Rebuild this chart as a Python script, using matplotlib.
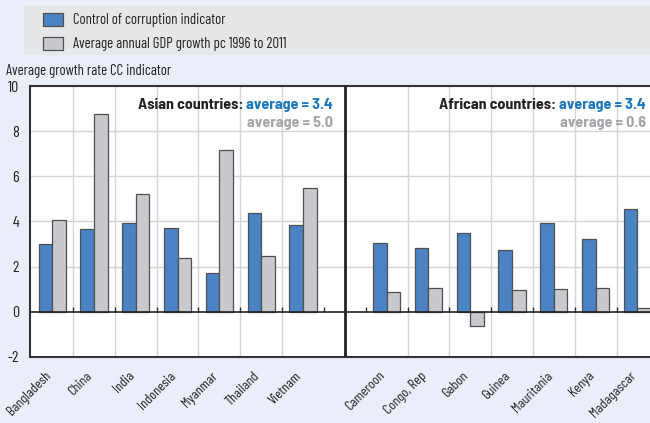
import matplotlib
matplotlib.use("Agg")
import matplotlib.pyplot as plt
from matplotlib.patches import Rectangle
import matplotlib.transforms as mtrans
import numpy as np

plt.rcParams['font.family'] = ['Barlow Condensed', 'Liberation Sans', 'DejaVu Sans']
BOLDFAM = ['Barlow Semi Condensed', 'Liberation Sans', 'DejaVu Sans']

asian = ["Bangladesh", "China", "India", "Indonesia", "Myanmar", "Thailand", "Vietnam"]
african = ["Cameroon", "Congo, Rep", "Gabon", "Guinea", "Mauritania", "Kenya", "Madagascar"]
asian_cc = [3.0, 3.66, 3.92, 3.69, 1.71, 4.36, 3.84]
asian_gdp = [4.06, 8.77, 5.2, 2.39, 7.16, 2.48, 5.49]
african_cc = [3.06, 2.81, 3.5, 2.72, 3.92, 3.23, 4.54]
african_gdp = [0.86, 1.04, -0.62, 0.95, 1.02, 1.04, 0.18]
yticks = [-2, 0, 2, 4, 6, 8, 10]
legend_labels = ["Control of corruption indicator", "Average annual GDP growth pc 1996 to 2011"]
ylabel = "Average growth rate CC indicator"
asian_note = ("Asian countries: ", "average = 3.4", "average = 5.0")
african_note = ("African countries: ", "average = 3.4", "average = 0.6")

BLUE = "#4a82c3"
GRAY = "#c8c9cc"
EDGE = "#505050"
BG = "#e9eef8"
TBLUE = "#1e78c0"
TGRAY = "#a4a6a9"
FS = 10.6

W, H = 650, 423
fig = plt.figure(figsize=(6.5, 4.23), dpi=100, facecolor=BG)
ax = fig.add_axes([30 / W, 1 - 356.8 / H, 1 - 30 / W, (356.8 - 86) / H])
ax.set_facecolor("white")

xa = np.arange(len(asian))
xf = np.arange(len(african)) + len(asian) + 1
x_all = np.concatenate([xa, xf])
cc = asian_cc + african_cc
gdp = asian_gdp + african_gdp
labels = asian + african
bw = 0.325

ax.bar(x_all - bw / 2, cc, width=bw, color=BLUE, edgecolor=EDGE, linewidth=0.9, zorder=3)
ax.bar(x_all + bw / 2, gdp, width=bw, color=GRAY, edgecolor=EDGE, linewidth=0.9, zorder=3)

ax.set_xlim(-0.53, 14.3)
ax.set_ylim(-2, 10)
ax.set_yticks(yticks)
ax.set_yticklabels([str(t) for t in yticks], fontsize=11.5)
ax.tick_params(axis='y', length=0, pad=8, colors="#222222")

# grid
for yv in yticks[2:-1]:
    ax.axhline(yv, color="#d4d4d4", lw=1, zorder=1)
for gx in np.arange(-0.5, 14.0, 1.0)[1:]:
    if abs(gx - 7) > 0.6:
        ax.axvline(gx, color="#d4d4d4", lw=1, zorder=1)
        ax.vlines(gx, 0, 0.22, color="#333333", lw=1, zorder=4)
ax.vlines([6.5, 7.5], 0, 0.22, color="#333333", lw=1, zorder=4)
ax.axhline(0, color="#222222", lw=1.2, zorder=4)
ax.axvline(len(asian), color="#222222", lw=2, zorder=5)

ax.set_xticks(x_all)
ax.set_xticklabels(labels, rotation=45, ha='right', va='top', rotation_mode='anchor', fontsize=10.3, color="#222222")
ax.tick_params(axis='x', length=0, pad=9)
off = mtrans.ScaledTranslation(-8 / 100, 0, fig.dpi_scale_trans)
for lab in ax.get_xticklabels():
    lab.set_transform(lab.get_transform() + off)

for s in ["left", "top", "bottom"]:
    ax.spines[s].set_color("#333333")
    ax.spines[s].set_linewidth(1.5)
ax.spines["right"].set_visible(False)

# annotations
def note(xr, parts):
    t2 = ax.text(xr, 9.15, parts[1], ha='right', va='center', fontsize=11.5, fontweight='bold',
                 family=BOLDFAM, color=TBLUE, zorder=6)
    fig.canvas.draw()
    bb = t2.get_window_extent()
    inv = ax.transData.inverted()
    xl = inv.transform((bb.x0, bb.y0))[0]
    ax.text(xl, 9.15, parts[0], ha='right', va='center', fontsize=11.5, fontweight='bold',
            family=BOLDFAM, color="#222222", zorder=6)
    ax.text(xr, 8.35, parts[2], ha='right', va='center', fontsize=11.5, fontweight='bold',
            family=BOLDFAM, color=TGRAY, zorder=6)

note(6.72, asian_note)
note(14.2, african_note)

# legend
fig.patches.append(Rectangle((24 / W, 1 - 55 / H), 1 - 24 / W, 50 / H, transform=fig.transFigure,
                             facecolor="#e6e7e9", edgecolor="none", zorder=0))
fig.patches.append(Rectangle((43 / W, 1 - 26 / H), 20 / W, 12.5 / H, transform=fig.transFigure,
                             facecolor=BLUE, edgecolor=EDGE, lw=0.9))
fig.patches.append(Rectangle((43 / W, 1 - 50 / H), 20 / W, 12.5 / H, transform=fig.transFigure,
                             facecolor=GRAY, edgecolor=EDGE, lw=0.9))
fig.text(73 / W, 1 - 20 / H, legend_labels[0], fontsize=FS, va='center', ha='left', color="#222222")
fig.text(73 / W, 1 - 44 / H, legend_labels[1], fontsize=FS, va='center', ha='left', color="#222222")

fig.text(6 / W, 1 - 71 / H, ylabel, fontsize=FS, va='center', ha='left', color="#222222")

fig.savefig("out.png", dpi=100, facecolor=BG)
